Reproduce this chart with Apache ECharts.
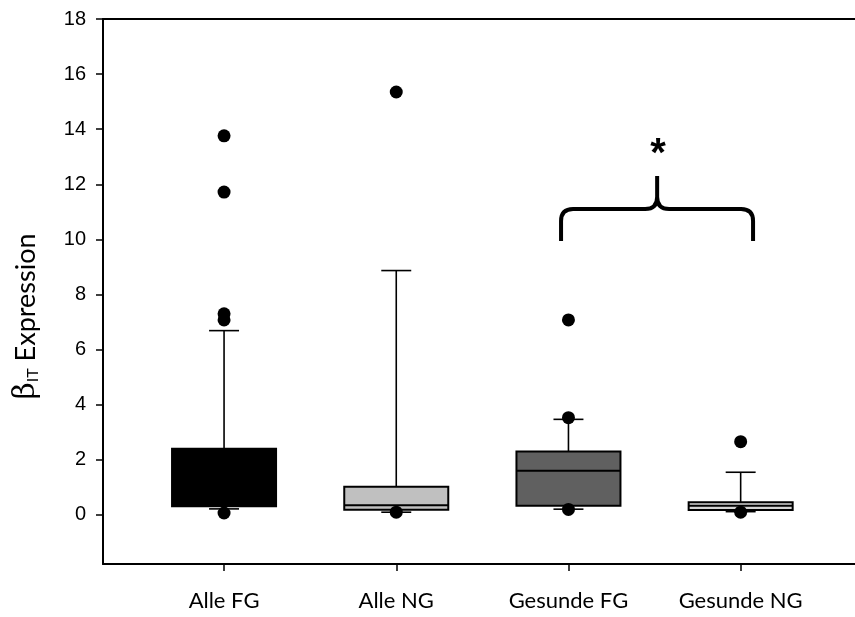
<!DOCTYPE html>
<html>
<head>
<meta charset="utf-8">
<script src="https://cdn.jsdelivr.net/npm/echarts@6/dist/echarts.min.js"></script>
<style>
  html, body { margin: 0; padding: 0; background: #fff; }
  #chart { width: 855px; height: 617px; }
</style>
</head>
<body>
<div id="chart"></div>
<script>
// groups along x (positions 1..4)
var categories = ['Alle FG', 'Alle NG', 'Gesunde FG', 'Gesunde NG'];
// [lower whisker, Q1, median, Q3, upper whisker]
var boxStats = [
  [0.22, 0.32, 0.90, 2.40, 6.69],
  [0.10, 0.19, 0.35, 1.02, 8.87],
  [0.21, 0.33, 1.60, 2.30, 3.47],
  [0.12, 0.18, 0.33, 0.46, 1.55]
];
var boxColors = ['#000000', '#c0c0c0', '#606060', '#d4d4d4'];
// outliers: [group index, value]
var outliers = [
  [0, 13.76], [0, 11.72], [0, 7.30], [0, 7.08], [0, 0.07],
  [1, 15.35], [1, 0.10],
  [2, 7.08], [2, 3.53], [2, 0.20],
  [3, 2.66], [3, 0.10]
];
var yTicks = [0, 2, 4, 6, 8, 10, 12, 14, 16, 18];
// significance brace between Gesunde FG and Gesunde NG
var braceX = [2.957, 3.515, 4.072]; // left, middle, right
var braceY = [9.94, 11.1, 12.3];    // arms, bar, peak
var starPos = [3.52, 13.05];

var xMin = 0.297, xMax = 4.664;
var boxWidth = 0.604, capWidth = 0.174;

var myChart = echarts.init(document.getElementById('chart'));

var boxData = boxStats.map(function (s, i) {
  return [i + 1].concat(s);
});
var outlierData = outliers.map(function (o) {
  return [o[0] + 1, o[1]];
});

function renderBox(params, api) {
  var x = api.value(0);
  var lo = api.coord([x, api.value(1)]);
  var q1 = api.coord([x, api.value(2)]);
  var med = api.coord([x, api.value(3)]);
  var q3 = api.coord([x, api.value(4)]);
  var hi = api.coord([x, api.value(5)]);
  var bw = api.size([boxWidth, 0])[0];
  var cw = api.size([capWidth, 0])[0];
  var line = { stroke: '#000', lineWidth: 1.6 };
  return {
    type: 'group',
    children: [
      { type: 'line', shape: { x1: hi[0], y1: hi[1], x2: q3[0], y2: q3[1] }, style: line },
      { type: 'line', shape: { x1: lo[0], y1: lo[1], x2: q1[0], y2: q1[1] }, style: line },
      { type: 'line', shape: { x1: hi[0] - cw / 2, y1: hi[1], x2: hi[0] + cw / 2, y2: hi[1] }, style: line },
      { type: 'line', shape: { x1: lo[0] - cw / 2, y1: lo[1], x2: lo[0] + cw / 2, y2: lo[1] }, style: line },
      {
        type: 'rect',
        shape: { x: q3[0] - bw / 2, y: q3[1], width: bw, height: q1[1] - q3[1] },
        style: { fill: boxColors[params.dataIndex], stroke: '#000', lineWidth: 2 }
      },
      { type: 'line', shape: { x1: med[0] - bw / 2, y1: med[1], x2: med[0] + bw / 2, y2: med[1] }, style: { stroke: '#000', lineWidth: 2 } }
    ]
  };
}

function renderBrace(params, api) {
  var l = api.coord([braceX[0], braceY[0]]);
  var lb = api.coord([braceX[0], braceY[1]]);
  var m = api.coord([braceX[1], braceY[1]]);
  var p = api.coord([braceX[1], braceY[2]]);
  var r = api.coord([braceX[2], braceY[0]]);
  var rb = api.coord([braceX[2], braceY[1]]);
  var s = api.coord(starPos);
  var rad = 12;
  var d = 'M' + l[0] + ',' + l[1] +
    ' L' + lb[0] + ',' + (lb[1] + rad) +
    ' Q' + lb[0] + ',' + lb[1] + ' ' + (lb[0] + rad) + ',' + lb[1] +
    ' L' + (m[0] - rad) + ',' + m[1] +
    ' Q' + m[0] + ',' + m[1] + ' ' + m[0] + ',' + (m[1] - rad) +
    ' L' + p[0] + ',' + p[1] +
    ' M' + m[0] + ',' + (m[1] - rad) +
    ' Q' + m[0] + ',' + m[1] + ' ' + (m[0] + rad) + ',' + m[1] +
    ' L' + (rb[0] - rad) + ',' + rb[1] +
    ' Q' + rb[0] + ',' + rb[1] + ' ' + rb[0] + ',' + (rb[1] + rad) +
    ' L' + r[0] + ',' + r[1];
  return {
    type: 'group',
    children: [
      { type: 'path', shape: { pathData: d }, style: { fill: null, stroke: '#000', lineWidth: 4 } },
      {
        type: 'text',
        x: s[0], y: s[1],
        style: {
          text: '*', fill: '#000', font: 'bold 40px "Liberation Sans", Arial',
          align: 'center', verticalAlign: 'middle'
        }
      }
    ]
  };
}

var option = {
  backgroundColor: '#fff',
  animation: false,
  grid: { left: 103, right: 0, top: 19, bottom: 53, containLabel: false },
  xAxis: [
    {
      type: 'value',
      min: xMin,
      max: xMax,
      splitLine: { show: false },
      axisLine: { show: true, onZero: false, lineStyle: { color: '#000', width: 2 } },
      axisTick: {
        show: true, length: 7, customValues: [1, 2, 3, 4],
        lineStyle: { color: '#000', width: 1.5 }
      },
      axisLabel: {
        show: true, customValues: [1, 2, 3, 4], margin: 26,
        fontFamily: 'Lato', fontSize: 22, color: '#000',
        formatter: function (v) { return categories[Math.round(v) - 1] || ''; }
      }
    },
    {
      type: 'value',
      position: 'top',
      min: xMin,
      max: xMax,
      splitLine: { show: false },
      axisLine: { show: true, onZero: false, lineStyle: { color: '#000', width: 2 } },
      axisTick: { show: false },
      axisLabel: { show: false }
    }
  ],
  yAxis: {
    type: 'value',
    min: -1.78,
    max: 18,
    splitLine: { show: false },
    axisLine: { show: true, onZero: false, lineStyle: { color: '#000', width: 2 } },
    axisTick: {
      show: true, length: 7, customValues: yTicks,
      lineStyle: { color: '#000', width: 1.5 }
    },
    axisLabel: {
      customValues: yTicks, margin: 17,
      fontFamily: '"Liberation Sans", Arial', fontSize: 20, color: '#000'
    },
    name: '{b|β}{s|IT}{e| Expression}',
    nameLocation: 'middle',
    nameGap: 62,
    nameRotate: 90,
    nameTextStyle: {
      padding: [0, 50, 0, 0],
      rich: {
        b: { fontFamily: '"DejaVu Serif", serif', fontSize: 30, color: '#000' },
        s: { fontFamily: 'Lato', fontSize: 16, color: '#000', verticalAlign: 'bottom', padding: [10, 0, 0, 0] },
        e: { fontFamily: 'Lato', fontSize: 27, color: '#000' }
      }
    }
  },
  series: [
    {
      type: 'custom',
      renderItem: renderBox,
      data: boxData,
      encode: { x: 0, y: [1, 2, 3, 4, 5] },
      z: 2
    },
    {
      type: 'scatter',
      data: outlierData,
      symbol: 'circle',
      symbolSize: 13,
      itemStyle: { color: '#000', opacity: 1 },
      z: 3
    },
    {
      type: 'custom',
      renderItem: renderBrace,
      data: [[braceX[1], braceY[2]]],
      encode: { x: 0, y: 1 },
      z: 4
    }
  ]
};

myChart.setOption(option);
</script>
</body>
</html>
